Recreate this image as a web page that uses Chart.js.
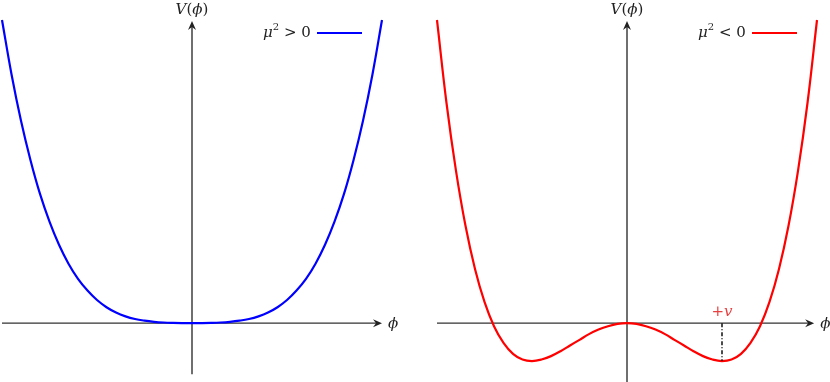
<!DOCTYPE html>
<html>
<head>
<meta charset="utf-8">
<script src="https://cdn.jsdelivr.net/npm/chart.js@4"></script>
<style>
  body { margin: 0; background: #fff; }
  canvas { position: absolute; top: 0; }
  #graficoPositivo { left: 0; }
  #graficoNegativo { left: 415px; }
</style>
</head>
<body>
<canvas id="graficoPositivo" width="415" height="382"></canvas>
<canvas id="graficoNegativo" width="415" height="382"></canvas>
<script>
// valores de phi (v = 1)
var phi = [-2.0, -1.9, -1.8, -1.7, -1.6, -1.5, -1.4, -1.3, -1.2, -1.1, -1.0, -0.9, -0.8, -0.7, -0.6, -0.5, -0.4, -0.3, -0.2, -0.1,
            0.0, 0.1, 0.2, 0.3, 0.4, 0.5, 0.6, 0.7, 0.8, 0.9, 1.0, 1.1, 1.2, 1.3, 1.4, 1.5, 1.6, 1.7, 1.8, 1.9, 2.0];

// V(phi) com mu^2 > 0
var vPositivo = [8.00, 6.57, 5.34, 4.30, 3.41, 2.68, 2.07, 1.57, 1.17, 0.86, 0.61, 0.42, 0.28, 0.18, 0.11, 0.066, 0.036, 0.017, 0.007, 0.002,
                 0.00, 0.002, 0.007, 0.017, 0.036, 0.066, 0.11, 0.18, 0.28, 0.42, 0.61, 0.86, 1.17, 1.57, 2.07, 2.68, 3.41, 4.30, 5.34, 6.57, 8.00];

// V(phi) com mu^2 < 0
var vNegativo = [8.00, 5.81, 4.02, 2.57, 1.43, 0.56, -0.08, -0.52, -0.81, -0.96, -1.00, -0.96, -0.87, -0.74, -0.59, -0.44, -0.29, -0.17, -0.08, -0.02,
                 0.00, -0.02, -0.08, -0.17, -0.29, -0.44, -0.59, -0.74, -0.87, -0.96, -1.00, -0.96, -0.81, -0.52, -0.08, 0.56, 1.43, 2.57, 4.02, 5.81, 8.00];

// posicao do minimo (+v)
var vacuo = [{ x: 1, y: 0 }, { x: 1, y: -1 }];

function pontos(valores) {
    var lista = [];
    for (var i = 0; i < phi.length; i++) {
        lista.push({ x: phi[i], y: valores[i] });
    }
    return lista;
}

function seta(ctx, x, y, dir) {
    // ponta estilo stealth
    ctx.save();
    ctx.translate(x, y);
    ctx.rotate(dir);
    ctx.beginPath();
    ctx.moveTo(0, 0);
    ctx.lineTo(-9, -4);
    ctx.lineTo(-6, 0);
    ctx.lineTo(-9, 4);
    ctx.closePath();
    ctx.fill();
    ctx.restore();
}

function texto(ctx, partes, x, y) {
    // desenha pedacos de texto com fontes diferentes
    var px = x;
    for (var i = 0; i < partes.length; i++) {
        var p = partes[i];
        ctx.font = p.f;
        ctx.fillStyle = p.c || "#222";
        ctx.fillText(p.t, px, y + (p.dy || 0));
        px += ctx.measureText(p.t).width;
    }
}

function larguraTexto(ctx, partes) {
    var w = 0;
    for (var i = 0; i < partes.length; i++) {
        ctx.font = partes[i].f;
        w += ctx.measureText(partes[i].t).width;
    }
    return w;
}

var ITAL = "italic 15px 'DejaVu Serif'";
var NORM = "15px 'DejaVu Serif'";
var SUP = "10px 'DejaVu Serif'";

function pluginEixos(cfg) {
    return {
        id: "eixos",
        beforeDatasetsDraw: function (chart) {
            var ctx = chart.ctx;
            var x = chart.scales.x;
            var y = chart.scales.y;
            var x0 = x.getPixelForValue(0);
            var y0 = y.getPixelForValue(0);
            var xFim = x.getPixelForValue(cfg.xFim);
            var yTopo = y.getPixelForValue(8);

            ctx.save();
            ctx.strokeStyle = "#333";
            ctx.fillStyle = "#222";
            ctx.lineWidth = 1.4;
            ctx.beginPath();
            ctx.moveTo(x.getPixelForValue(-2), y0);
            ctx.lineTo(xFim - 4, y0);
            ctx.moveTo(x0, y.getPixelForValue(cfg.yBase));
            ctx.lineTo(x0, yTopo + 4);
            ctx.stroke();
            seta(ctx, xFim, y0, 0);
            seta(ctx, x0, yTopo + 1, -Math.PI / 2);

            ctx.textBaseline = "middle";
            texto(ctx, [{ t: "ϕ", f: ITAL }], xFim + 6, y0 + 1);

            var rotulo = [{ t: "V", f: ITAL }, { t: "(", f: NORM }, { t: "ϕ", f: ITAL }, { t: ")", f: NORM }];
            texto(ctx, rotulo, x0 - larguraTexto(ctx, rotulo) / 2, 10);

            // legenda
            var leg = [{ t: "μ", f: ITAL }, { t: "2", f: SUP, dy: -6 }, { t: " " + cfg.sinal + " 0", f: NORM }];
            texto(ctx, leg, cfg.legX, 33);
            ctx.strokeStyle = cfg.cor;
            ctx.lineWidth = 2.2;
            ctx.beginPath();
            ctx.moveTo(cfg.legX + 54, 33);
            ctx.lineTo(cfg.legX + 99, 33);
            ctx.stroke();

            if (cfg.marcaV) {
                var xv = x.getPixelForValue(1);
                var marca = [{ t: "+", f: NORM, c: "#e84040" }, { t: "v", f: ITAL, c: "#e84040" }];
                texto(ctx, marca, xv - larguraTexto(ctx, marca) / 2, y0 - 11);
            }
            ctx.restore();
        }
    };
}

function opcoes(padding, yMin) {
    return {
        responsive: false,
        animation: false,
        layout: { padding: padding },
        scales: {
            x: { type: "linear", min: -2, max: 2, display: false },
            y: { type: "linear", min: yMin, max: 8, display: false }
        },
        plugins: { legend: { display: false }, tooltip: { enabled: false } }
    };
}

function plotarPositivo() {
    var ctx = document.getElementById("graficoPositivo").getContext("2d");
    new Chart(ctx, {
        type: "scatter",
        data: {
            datasets: [{
                data: pontos(vPositivo),
                showLine: true,
                borderColor: "#0000ff",
                borderWidth: 2.2,
                pointRadius: 0,
                tension: 0.4,
                clip: false
            }]
        },
        options: opcoes({ left: 2, right: 33, top: 20, bottom: 2 }, -1.5),
        plugins: [pluginEixos({ xFim: 2, yBase: -1.35, sinal: ">", cor: "#0000ff", legX: 263, marcaV: false })]
    });
}

function plotarNegativo() {
    var ctx = document.getElementById("graficoNegativo").getContext("2d");
    new Chart(ctx, {
        type: "scatter",
        data: {
            datasets: [{
                data: vacuo,
                showLine: true,
                borderColor: "#111",
                borderWidth: 1.5,
                borderDash: [4, 2, 1, 2],
                pointRadius: 0,
                clip: false
            }, {
                data: pontos(vNegativo),
                showLine: true,
                borderColor: "#ff0000",
                borderWidth: 2.2,
                pointRadius: 0,
                tension: 0.4,
                clip: false
            }]
        },
        options: opcoes({ left: 22, right: 13, top: 20, bottom: 2 }, -1.5),
        plugins: [pluginEixos({ xFim: 1.97, yBase: -1.6, sinal: "<", cor: "#ff0000", legX: 283, marcaV: true })]
    });
}

plotarPositivo();
plotarNegativo();
</script>
</body>
</html>
